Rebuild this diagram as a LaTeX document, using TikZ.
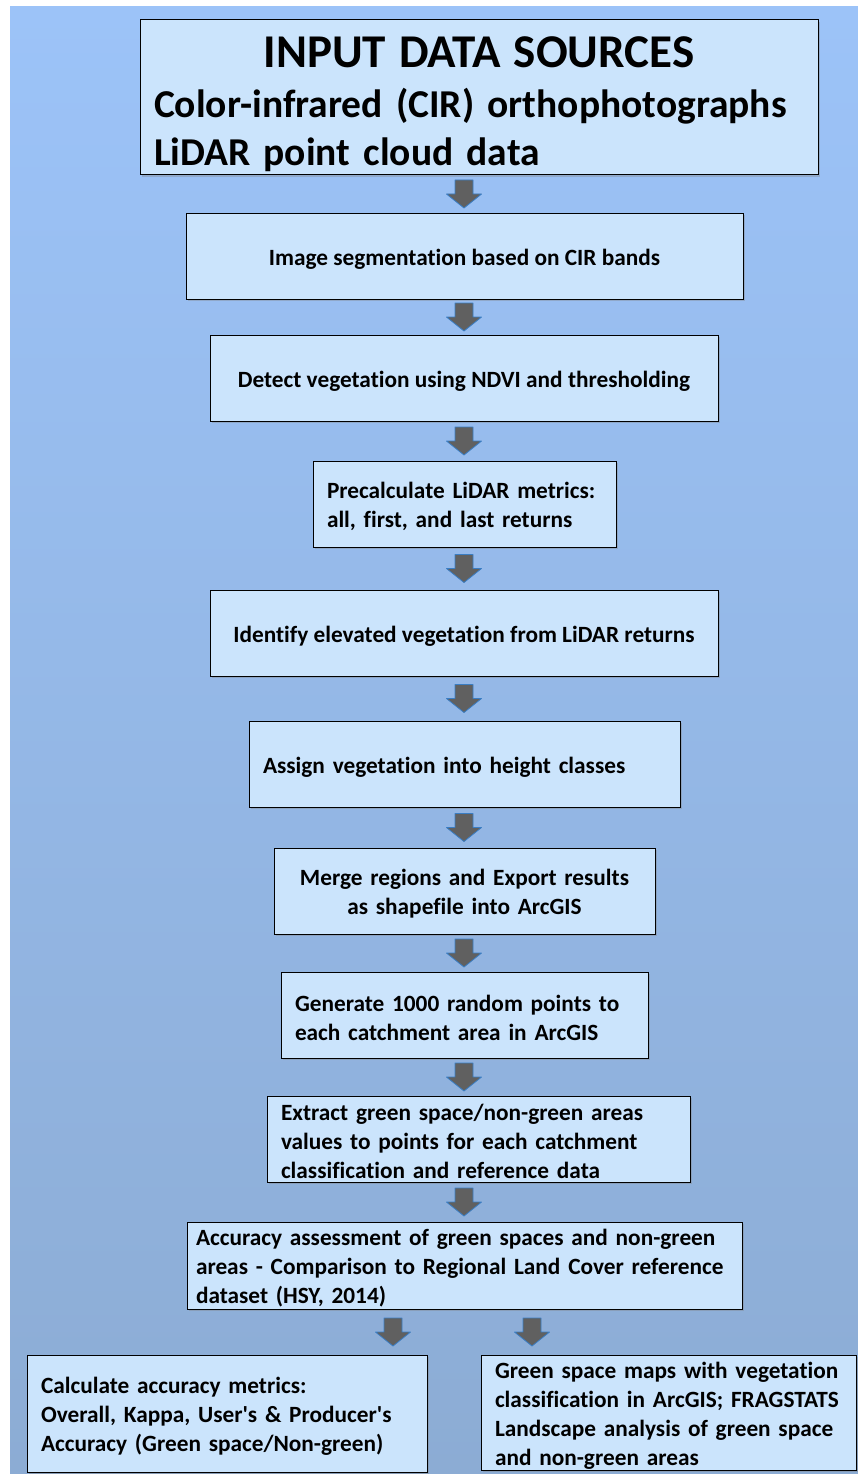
\documentclass[tikz,border=0pt]{standalone}
\usepackage{fontspec}
\setmainfont{Carlito}[Ligatures={TeXOff,NoCommon}]
\usetikzlibrary{shadows}

\definecolor{boxfill}{RGB}{203,228,252}
\definecolor{bgtop}{RGB}{156,195,248}
\definecolor{bgmid}{RGB}{126,166,230}
\definecolor{bgbot}{RGB}{140,172,212}
\definecolor{arrowfill}{RGB}{96,96,96}
\definecolor{arrowline}{RGB}{58,125,195}

\tikzset{
  stepbox/.style={draw=black,line width=1pt,fill=boxfill,
    drop shadow={opacity=.35,shadow xshift=2pt,shadow yshift=-2pt},
    inner xsep=14pt,inner ysep=0pt,font=\fontsize{23.3}{29}\selectfont\bfseries,
    execute at begin node=\rule{0pt}{22pt}},
  flowarrow/.pic={
    \draw[draw=arrowline,line width=.8pt,fill=arrowfill,line join=round]
      (-9,-14) -- (9,-14) -- (9,0) -- (17.5,0) -- (0,14) -- (-17.5,0) -- (-9,0) -- cycle;}
}

\begin{document}
\begin{tikzpicture}[x=1pt,y=-1pt]
\useasboundingbox (0,0) rectangle (858,1474);
\shade[top color=bgtop,middle color=bgmid,bottom color=bgbot] (10,7) rectangle (858,1474);

% input box
\node (n1)[stepbox,text width=650pt,minimum height=155pt,align=left,
    font=\fontsize{39.5}{48}\selectfont\bfseries] at (479,97.5)
  {\makebox[\linewidth]{\rule{0pt}{44pt}\fontsize{47}{48}\selectfont INPUT DATA SOURCES}\\[2pt]
   Color-infrared (CIR) orthophotographs\\
   LiDAR point cloud data};

% processing steps
\node (n2)[stepbox,minimum width=557pt,minimum height=86pt] at (464.5,256)
  {Image segmentation based on CIR bands};
\node (n3)[stepbox,minimum width=508pt,minimum height=86pt] at (464,378)
  {Detect vegetation using NDVI and thresholding};
\node (n4)[stepbox,text width=275pt,minimum height=86pt,align=left] at (464.5,504)
  {Precalculate LiDAR metrics:\\all, first, and last returns};
\node (n5)[stepbox,minimum width=508pt,minimum height=86pt] at (464,633)
  {Identify elevated vegetation from LiDAR returns};
\node (n6)[stepbox,text width=403pt,minimum height=86pt,align=left] at (464.5,764)
  {Assign vegetation into height classes};
\node (n7)[stepbox,text width=353pt,minimum height=86pt,align=center] at (464.5,891)
  {Merge regions and Export results\\as shapefile into ArcGIS};
\node (n8)[stepbox,text width=339pt,minimum height=86pt,align=left] at (464.5,1015)
  {Generate 1000 random points to\\each catchment area in ArcGIS};
\node (n9)[stepbox,text width=395pt,minimum height=86pt,align=left] at (478.5,1139)
  {Extract green space/non-green areas\\values to points for each catchment\\classification and reference data};
\node (n10)[stepbox,text width=537pt,inner xsep=9pt,minimum height=87pt,align=left] at (464.5,1265.5)
  {Accuracy assessment of green spaces and non-green\\areas - Comparison to Regional Land Cover reference\\dataset (HSY, 2014)};

% outputs
\node (n11)[stepbox,text width=372pt,minimum height=117pt,align=left] at (227,1413.5)
  {Calculate accuracy metrics:\\Overall, Kappa, User's \& Producer's\\Accuracy (Green space/Non-green)};
\node (n12)[stepbox,text width=347pt,minimum height=115pt,align=left] at (668.5,1412.5)
  {Green space maps with vegetation\\classification in ArcGIS; FRAGSTATS\\Landscape analysis of green space\\and non-green areas};

% block arrows
\foreach \i/\y in {1/194,2/317,3/441,4/568.5,5/698.5,6/827.5,7/953,8/1077,9/1202}
  \pic (a\i) at (464,\y) {flowarrow};
\pic (a10) at (393,1332) {flowarrow};
\pic (a11) at (532,1332) {flowarrow};
\end{tikzpicture}
\end{document}
